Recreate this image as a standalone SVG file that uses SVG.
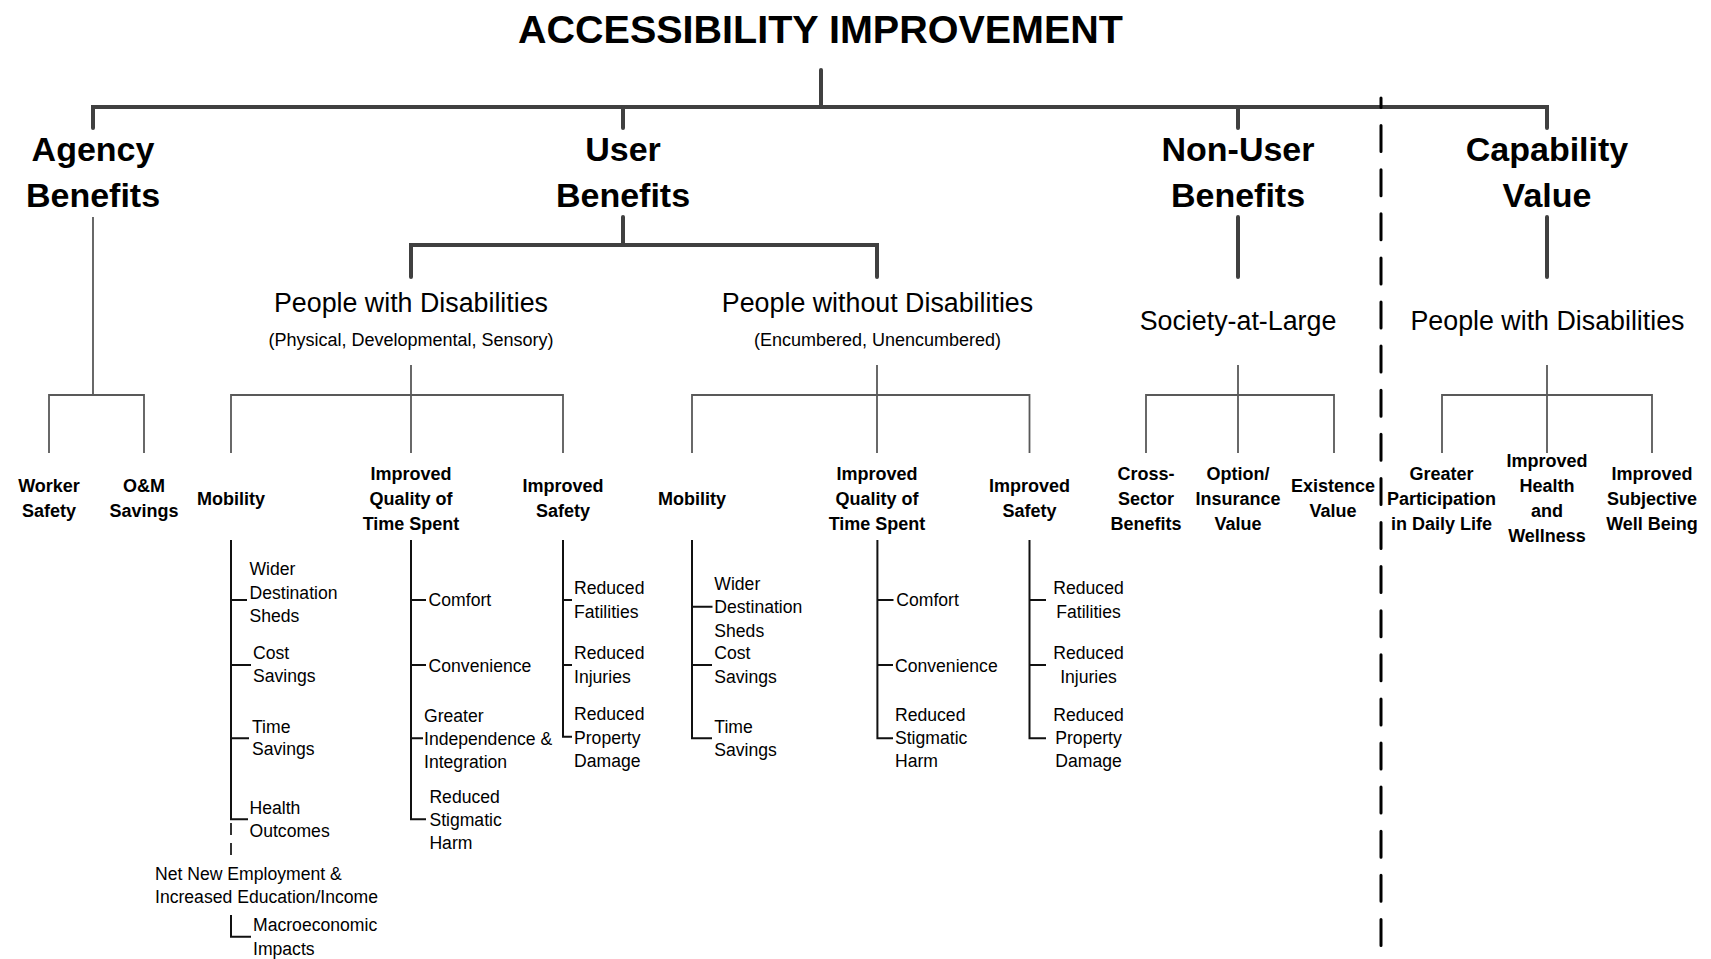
<svg xmlns="http://www.w3.org/2000/svg" width="1711" height="959" viewBox="0 0 1711 959">
<style>
text{font-family:"Liberation Sans",Arial,sans-serif;fill:#000}
.title{font-size:39.5px;font-weight:bold;text-anchor:middle}
.h1{font-size:34px;font-weight:bold;text-anchor:middle}
.h2{font-size:26.8px;text-anchor:middle}
.h2s{font-size:18px;text-anchor:middle}
.leaf{font-size:18px;font-weight:bold;text-anchor:middle}
.sub{font-size:17.6px}
.subc{font-size:17.6px;text-anchor:middle}
.thick{fill:none;stroke:#404040;stroke-width:4;stroke-linecap:round;stroke-linejoin:miter}
.thin{fill:none;stroke:#595959;stroke-width:1.8}
.tree{fill:none;stroke:#111;stroke-width:2}
.dash{fill:none;stroke:#000;stroke-width:3;stroke-linecap:round;stroke-dasharray:26 18.1;stroke-dashoffset:16.5}
.dashs{fill:none;stroke:#000;stroke-width:1.6;stroke-dasharray:12 8}
</style>
<rect width="1711" height="959" fill="#fff"/>
<g id="connectors">
<path class="thick" d="M821,70 V107"/>
<path class="thick" d="M93,128 V107 H1547 V128"/>
<path class="thick" d="M623,107 V128 M1238,107 V128"/>
<path class="thick" d="M623,217 V245"/>
<path class="thick" d="M411,277 V245 H877 V277"/>
<path class="thick" d="M1238,217 V277 M1547,217 V277"/>
<path class="thin" d="M93,217 V395 M49,453 V395 H144 V453"/>
<path class="thin" d="M411,365 V453 M231,453 V395 H563 V453"/>
<path class="thin" d="M877,365 V453 M692,453 V395 H1029.5 V453"/>
<path class="thin" d="M1238,365 V453 M1146,453 V395 H1334 V453"/>
<path class="thin" d="M1547,365 V453 M1442,453 V395 H1652 V453"/>
<path class="dash" d="M1381,98 V947"/>
<path class="tree" d="M231,540 V819.3 H248 M231,600 H247 M231,665 H251 M231,738.3 H249"/>
<path class="dashs" d="M231,823 V855"/>
<path class="tree" d="M231,915 V936.7 H251"/>
<path class="tree" d="M411,540 V819.3 H426 M411,600 H426 M411,665 H426 M411,738.3 H423"/>
<path class="tree" d="M563,540 V736.7 H572 M563,600 H572 M563,665 H572"/>
<path class="tree" d="M692,540 V738.3 H712 M692,606.7 H712.5 M692,665 H712"/>
<path class="tree" d="M877.4,540 V738.3 H893 M877.4,600 H893.5 M877.4,665 H893"/>
<path class="tree" d="M1029.5,540 V738.3 H1046 M1029.5,600 H1046 M1029.5,665 H1046"/>
</g>
<g id="root"><text class="title" x="820.5" y="43">ACCESSIBILITY IMPROVEMENT</text></g>
<g id="agency"><text class="h1" x="93" y="161">Agency</text><text class="h1" x="93" y="207">Benefits</text></g>
<g id="user"><text class="h1" x="623" y="161">User</text><text class="h1" x="623" y="207">Benefits</text></g>
<g id="nonuser"><text class="h1" x="1238" y="161">Non-User</text><text class="h1" x="1238" y="207">Benefits</text></g>
<g id="capability"><text class="h1" x="1547" y="161">Capability</text><text class="h1" x="1547" y="207">Value</text></g>
<g id="pwd"><text class="h2" x="411" y="312">People with Disabilities</text><text class="h2s" x="411" y="346">(Physical, Developmental, Sensory)</text></g>
<g id="pwod"><text class="h2" x="877.5" y="312">People without Disabilities</text><text class="h2s" x="877.5" y="346">(Encumbered, Unencumbered)</text></g>
<g id="society"><text class="h2" x="1238" y="330">Society-at-Large</text></g>
<g id="cap-pwd"><text class="h2" x="1547.5" y="330">People with Disabilities</text></g>
<g id="worker-safety"><text class="leaf" x="49" y="492">Worker</text><text class="leaf" x="49" y="517">Safety</text></g>
<g id="om-savings"><text class="leaf" x="144" y="492">O&amp;M</text><text class="leaf" x="144" y="517">Savings</text></g>
<g id="pwd-mobility"><text class="leaf" x="231" y="505">Mobility</text></g>
<g id="pwd-iqts"><text class="leaf" x="411" y="480">Improved</text><text class="leaf" x="411" y="505">Quality of</text><text class="leaf" x="411" y="530">Time Spent</text></g>
<g id="pwd-safety"><text class="leaf" x="563" y="492">Improved</text><text class="leaf" x="563" y="517">Safety</text></g>
<g id="pwod-mobility"><text class="leaf" x="692" y="505">Mobility</text></g>
<g id="pwod-iqts"><text class="leaf" x="877" y="480">Improved</text><text class="leaf" x="877" y="505">Quality of</text><text class="leaf" x="877" y="530">Time Spent</text></g>
<g id="pwod-safety"><text class="leaf" x="1029.5" y="492">Improved</text><text class="leaf" x="1029.5" y="517">Safety</text></g>
<g id="cross-sector"><text class="leaf" x="1146" y="480">Cross-</text><text class="leaf" x="1146" y="505">Sector</text><text class="leaf" x="1146" y="530">Benefits</text></g>
<g id="option"><text class="leaf" x="1238" y="480">Option/</text><text class="leaf" x="1238" y="505">Insurance</text><text class="leaf" x="1238" y="530">Value</text></g>
<g id="existence"><text class="leaf" x="1333" y="492">Existence</text><text class="leaf" x="1333" y="517">Value</text></g>
<g id="participation"><text class="leaf" x="1441.5" y="480">Greater</text><text class="leaf" x="1441.5" y="505">Participation</text><text class="leaf" x="1441.5" y="530">in Daily Life</text></g>
<g id="health"><text class="leaf" x="1547" y="467">Improved</text><text class="leaf" x="1547" y="492">Health</text><text class="leaf" x="1547" y="517">and</text><text class="leaf" x="1547" y="542">Wellness</text></g>
<g id="wellbeing"><text class="leaf" x="1652" y="480">Improved</text><text class="leaf" x="1652" y="505">Subjective</text><text class="leaf" x="1652" y="530">Well Being</text></g>
<g id="pwd-mobility-items">
<text class="sub" x="249.5" y="575">Wider</text><text class="sub" x="249.5" y="599">Destination</text><text class="sub" x="249.5" y="622">Sheds</text>
<text class="sub" x="253" y="658.5">Cost</text><text class="sub" x="253" y="682">Savings</text>
<text class="sub" x="252" y="732.7">Time</text><text class="sub" x="252" y="755">Savings</text>
<text class="sub" x="249.5" y="814">Health</text><text class="sub" x="249.5" y="837">Outcomes</text>
<text class="sub" x="155" y="880">Net New Employment &amp;</text><text class="sub" x="155" y="903">Increased Education/Income</text>
<text class="sub" x="253" y="931">Macroeconomic</text><text class="sub" x="253" y="955">Impacts</text>
</g>
<g id="pwd-iqts-items">
<text class="sub" x="428.6" y="606">Comfort</text>
<text class="sub" x="428.6" y="671.7">Convenience</text>
<text class="sub" x="424" y="721.7">Greater</text><text class="sub" x="424" y="745">Independence &amp;</text><text class="sub" x="424" y="768.3">Integration</text>
<text class="sub" x="429.4" y="803">Reduced</text><text class="sub" x="429.4" y="826">Stigmatic</text><text class="sub" x="429.4" y="849">Harm</text>
</g>
<g id="pwd-safety-items">
<text class="sub" x="574" y="594">Reduced</text><text class="sub" x="574" y="618">Fatilities</text>
<text class="sub" x="574" y="658.5">Reduced</text><text class="sub" x="574" y="683">Injuries</text>
<text class="sub" x="574" y="720">Reduced</text><text class="sub" x="574" y="743.5">Property</text><text class="sub" x="574" y="767">Damage</text>
</g>
<g id="pwod-mobility-items">
<text class="sub" x="714.3" y="590">Wider</text><text class="sub" x="714.3" y="613.3">Destination</text><text class="sub" x="714.3" y="636.7">Sheds</text>
<text class="sub" x="714.3" y="659">Cost</text><text class="sub" x="714.3" y="682.7">Savings</text>
<text class="sub" x="714.3" y="732.7">Time</text><text class="sub" x="714.3" y="756">Savings</text>
</g>
<g id="pwod-iqts-items">
<text class="sub" x="896.3" y="606">Comfort</text>
<text class="sub" x="895" y="671.7">Convenience</text>
<text class="sub" x="895" y="720.7">Reduced</text><text class="sub" x="895" y="744">Stigmatic</text><text class="sub" x="895" y="767.3">Harm</text>
</g>
<g id="pwod-safety-items">
<text class="subc" x="1088.5" y="594">Reduced</text><text class="subc" x="1088.5" y="618.3">Fatilities</text>
<text class="subc" x="1088.5" y="659">Reduced</text><text class="subc" x="1088.5" y="683.3">Injuries</text>
<text class="subc" x="1088.5" y="720.7">Reduced</text><text class="subc" x="1088.5" y="744">Property</text><text class="subc" x="1088.5" y="767.3">Damage</text>
</g>
</svg>
